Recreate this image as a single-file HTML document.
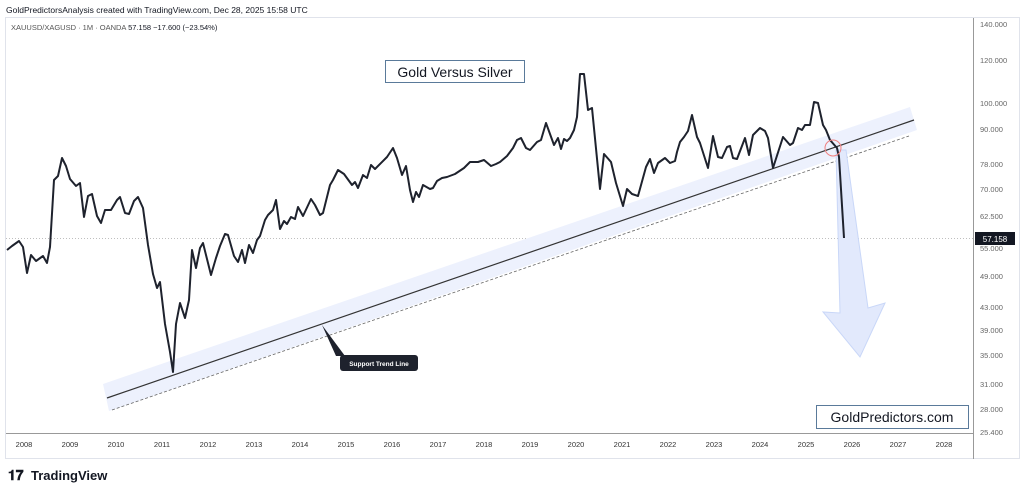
<!DOCTYPE html>
<html><head><meta charset="utf-8"><style>
body{margin:0;width:1024px;height:494px;background:#fff;overflow:hidden;font-family:"Liberation Sans",sans-serif}
</style></head><body>
<svg width="1024" height="494" xmlns="http://www.w3.org/2000/svg" font-family="Liberation Sans, sans-serif">
<text x="6" y="13" font-size="8.5" fill="#131722">GoldPredictorsAnalysis created with TradingView.com, Dec 28, 2025 15:58 UTC</text>
<rect x="5.5" y="17.5" width="1014" height="441" fill="none" stroke="#e0e3eb"/>
<text x="11" y="30" font-size="7.5" fill="#555">XAUUSD/XAGUSD · 1M · OANDA  <tspan fill="#131722">57.158  −17.600 (−23.54%)</tspan></text>
<line x1="973.5" y1="18" x2="973.5" y2="459" stroke="#999"/>
<line x1="6" y1="433.5" x2="973" y2="433.5" stroke="#999"/>
<g font-size="7.5" fill="#666">
<text x="980" y="27">140.000</text><text x="980" y="63">120.000</text><text x="980" y="106">100.000</text>
<text x="980" y="132">90.000</text><text x="980" y="167">78.000</text><text x="980" y="192">70.000</text>
<text x="980" y="219">62.500</text><text x="980" y="251">55.000</text><text x="980" y="279">49.000</text>
<text x="980" y="310">43.000</text><text x="980" y="333">39.000</text><text x="980" y="358">35.000</text>
<text x="980" y="387">31.000</text><text x="980" y="412">28.000</text><text x="980" y="435">25.400</text>
</g>
<g font-size="7.5" fill="#333" text-anchor="middle">
<text x="24" y="447">2008</text><text x="70" y="447">2009</text><text x="116" y="447">2010</text><text x="162" y="447">2011</text><text x="208" y="447">2012</text><text x="254" y="447">2013</text><text x="300" y="447">2014</text><text x="346" y="447">2015</text><text x="392" y="447">2016</text><text x="438" y="447">2017</text><text x="484" y="447">2018</text><text x="530" y="447">2019</text><text x="576" y="447">2020</text><text x="622" y="447">2021</text><text x="668" y="447">2022</text><text x="714" y="447">2023</text><text x="760" y="447">2024</text><text x="806" y="447">2025</text><text x="852" y="447">2026</text><text x="898" y="447">2027</text><text x="944" y="447">2028</text>
</g>
<line x1="6" y1="238.5" x2="973" y2="238.5" stroke="#aaa" stroke-dasharray="1,2" stroke-width="0.8"/>
<polygon points="103,384 910,107 917,130 109,411" fill="#edf1fd"/>
<line x1="107" y1="398" x2="914" y2="120" stroke="#333" stroke-width="1.2"/>
<line x1="112" y1="410" x2="909" y2="136" stroke="#666" stroke-width="0.8" stroke-dasharray="3,2"/>
<polygon points="836,150 846,150 868,308 885,303 860,357 823,312 840,313" fill="#e2e9fc" stroke="#c9d7f8" stroke-width="1"/>
<polyline fill="none" stroke="#1e222d" stroke-width="2" stroke-linejoin="round" points="7,250 12,246 19,241 23,247 27,273 31,255 36,261 43,256 47,263 50,247 54,180 58,176 62,158 66,166 70,179 76,186 80,183 84,217 88,196 92,194 97,216 101,223 105,210 111,210 117,200 120,197 125,213 129,214 134,201 138,197 143,208 148,245 153,274 157,288 160,282 165,324 170,352 173,372 176,324 180,303 185,318 189,300 192,250 196,268 200,248 203,243 211,275 216,258 220,246 225,234 228,235 234,256 238,262 242,250 245,263 249,245 253,253 257,240 260,236 265,220 268,215 273,210 276,200 280,229 284,221 287,224 291,217 295,219 298,207 303,216 311,199 315,205 320,215 323,213 330,185 333,180 338,170 344,174 352,185 355,182 358,188 363,175 367,178 371,165 375,169 387,157 393,148 397,158 402,175 406,166 410,190 413,202 416,192 419,197 423,185 430,189 433,188 437,181 442,178 447,177 455,174 464,168 470,162 478,162 484,160 491,166 496,164 500,162 507,156 513,148 517,140 521,138 526,148 530,150 537,142 541,140 546,123 554,145 558,138 561,149 564,139 567,141 570,138 574,130 577,117 580,74 584,74 588,110 592,108 600,189 604,154 611,162 616,183 623,206 627,189 632,194 638,196 646,167 650,159 654,173 658,163 665,158 670,163 675,161 677,152 680,142 684,137 688,131 692,115 697,137 700,143 708,168 713,136 718,157 722,158 727,147 730,146 733,158 737,159 745,138 749,155 753,135 760,128 765,131 768,138 773,168 783,137 790,145 793,143 798,128 802,130 805,125 810,125 814,102 818,103 823,125 826,130 830,140 837,148 839,157 844,238"/>
<circle cx="833" cy="148" r="8" fill="none" stroke="#f08080" stroke-width="1"/>
<rect x="975" y="232" width="40" height="13" fill="#131722"/>
<text x="995" y="242" font-size="8" fill="#fff" text-anchor="middle">57.158</text>
<rect x="385.5" y="60.5" width="139" height="22" fill="#fff" stroke="#5a7a9a"/>
<text x="455" y="77" font-size="14" fill="#131722" text-anchor="middle">Gold Versus Silver</text>
<rect x="816.5" y="405.5" width="152" height="23" fill="#fff" stroke="#5a7a9a"/>
<text x="892" y="422" font-size="14" fill="#131722" text-anchor="middle">GoldPredictors.com</text>
<polygon points="322,325 345,356 336,356" fill="#1e222d"/>
<rect x="340" y="355" width="78" height="16" rx="3" fill="#1e222d"/>
<text x="379" y="366" font-size="6.5" fill="#fff" text-anchor="middle" font-weight="bold">Support Trend Line</text>
<text x="8" y="480" font-size="14" font-weight="bold" fill="#131722">𝟏𝟕</text>
<text x="31" y="480" font-size="13" fill="#131722" font-weight="bold">TradingView</text>
</svg>
</body></html>
